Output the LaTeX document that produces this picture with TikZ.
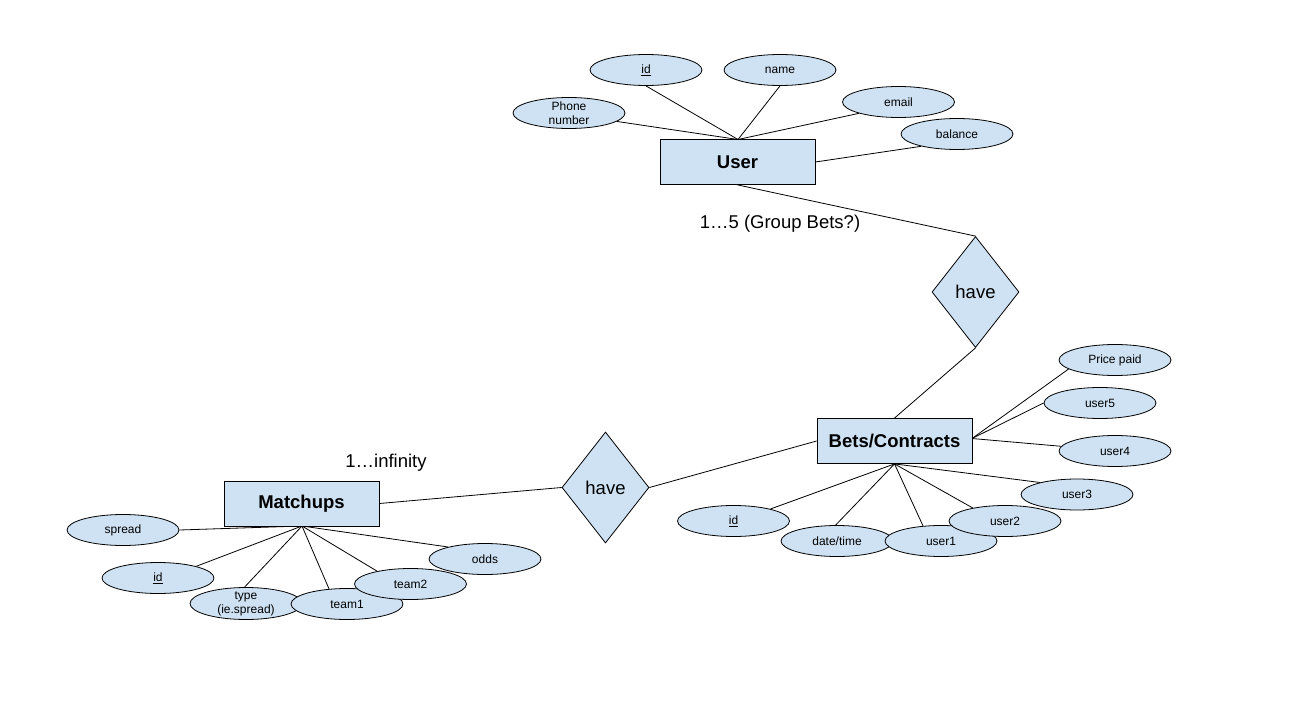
\documentclass[tikz,border=0pt]{standalone}
\usepackage{fontspec}
\setmainfont{Liberation Sans}
\usetikzlibrary{shapes.geometric,backgrounds}
\definecolor{erfill}{HTML}{CFE2F3}
\tikzset{
  attr/.style={ellipse,draw=black,fill=erfill,line width=0.8pt,minimum width=112pt,minimum height=31pt,inner sep=0pt,font=\fontsize{12}{14}\selectfont,align=center},
  twoline/.style={inner sep=-3.5pt},
  entity/.style={rectangle,draw=black,fill=erfill,line width=0.8pt,minimum width=155pt,minimum height=45pt,inner sep=0pt,font=\fontsize{18.5}{20}\selectfont\bfseries},
  rel/.style={diamond,draw=black,fill=erfill,line width=0.8pt,minimum width=87pt,minimum height=111pt,inner sep=0pt,font=\fontsize{18.5}{20}\selectfont},
  conn/.style={draw=black,line width=0.8pt},
  lbl/.style={font=\fontsize{18.5}{20}\selectfont,inner sep=0pt}
}
\begin{document}
\begin{tikzpicture}[x=1pt,y=-1pt]
\useasboundingbox (0,0) rectangle (1291,709);
% User
\node[entity] (user) at (737.5,162) {User};
\node[attr] (uid) at (646,70) {\underline{id}};
\node[attr] (uname) at (780,70) {name};
\node[attr,twoline] (uphone) at (569,113) {Phone\\number};
\node[attr] (uemail) at (898.5,102) {email};
\node[attr] (ubal) at (957,134) {balance};
\node[lbl] (card1) at (780,224) {1…5 (Group Bets?)};
% relationship 1
\node[rel] (have1) at (975.5,292) {have};
% Bets
\node[entity] (bets) at (894.5,441) {Bets/Contracts};
\node[attr] (price) at (1115,360) {Price paid};
\node[attr] (u5) at (1100,403) {user5};
\node[attr] (u4) at (1115,451) {user4};
\node[attr] (u3) at (1077,494.5) {user3};
\node[attr] (bid) at (733.5,521) {\underline{id}};
\node[attr] (date) at (837,541) {date/time};
\node[attr] (u1) at (941,541) {user1};
\node[attr] (u2) at (1005,521) {user2};
% relationship 2
\node[rel] (have2) at (605.5,487.5) {have};
% Matchups
\node[entity] (match) at (301.5,503.5) {Matchups};
\node[lbl] (card2) at (386,463) {1…infinity};
\node[attr] (spread) at (123,530) {spread};
\node[attr] (mid) at (158,578) {\underline{id}};
\node[attr] (odds) at (485,559) {odds};
\node[attr,twoline,minimum height=32pt] (type) at (246,603.5) {type\\(ie.spread)};
\node[attr] (team1) at (347,604) {team1};
\node[attr] (team2) at (410.5,584) {team2};
\begin{pgfonlayer}{background}
\fill[white] (0,0) rectangle (1291,709);
% User connectors
\coordinate (ut) at (738,139.5);
\draw[conn] (ut) -- (uid.south);
\draw[conn] (ut) -- (uname.south);
\draw[conn] (ut) -- (uphone.-10);
\draw[conn] (ut) -- (uemail.-164);
\draw[conn] (user.east) -- (ubal.-161);
\draw[conn] (user.south) -- (have1.north);
\draw[conn] (have1.south) -- (bets.north);
% Bets connectors
\coordinate (br) at (972,438.5);
\draw[conn] (br) -- (price.-169);
\draw[conn] (br) -- (u5.west);
\draw[conn] (br) -- (u4.175);
\draw[conn] (bets.south) -- (u3.162);
\draw[conn] (bets.south) -- (u2.158);
\draw[conn] (bets.south) -- (u1.140);
\draw[conn] (bets.south) -- (date.95);
\draw[conn] (bets.south) -- (bid.18);
\draw[conn] (have2.east) -- (bets.west);
\draw[conn] (match.east) -- (have2.west);
% Matchups connectors
\coordinate (mb) at (302,526);
\draw[conn] (mb) -- (spread.east);
\draw[conn] (mb) -- (mid.17);
\draw[conn] (mb) -- (type.95);
\draw[conn] (mb) -- (team1.140);
\draw[conn] (mb) -- (team2.159);
\draw[conn] (mb) -- (odds.162);
\end{pgfonlayer}
\end{tikzpicture}
\end{document}
